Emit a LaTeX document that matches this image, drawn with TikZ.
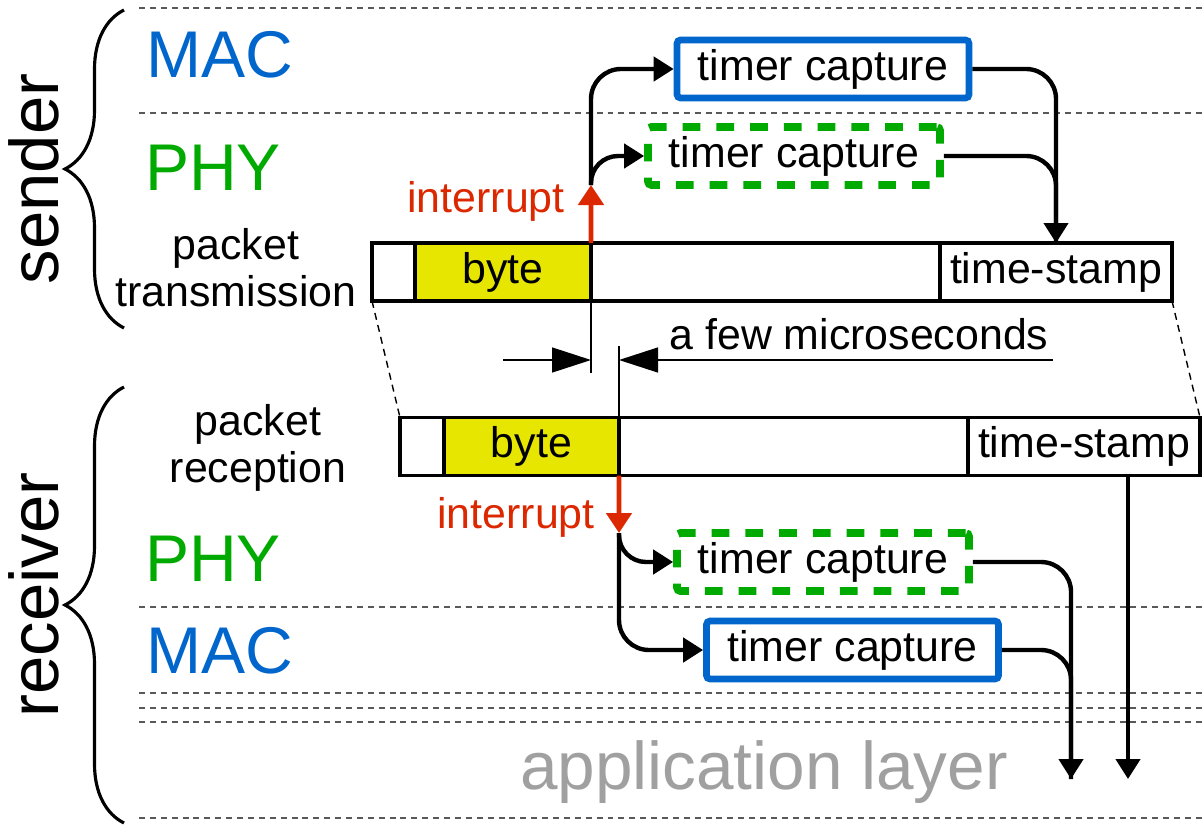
\documentclass[tikz,border=0pt]{standalone}
\usepackage{fontspec}
\setmainfont{Liberation Sans}
\usepackage{tikz}
\usetikzlibrary{positioning, arrows.meta, decorations.pathreplacing}
\definecolor{tsA}{RGB}{  0,102,204}
\definecolor{tsB}{RGB}{  0,170,  0}
\definecolor{tsC}{RGB}{220, 40,  0}
\definecolor{tsD}{RGB}{230,230,  0}
\definecolor{tsE}{RGB}{160,160,160}

\begin{document}
\begin{tikzpicture}[
    font=\fontsize{12.2}{13.4}\selectfont,
    big/.style={font=\fontsize{18.8}{22}\selectfont, inner sep=0pt},
    side/.style={font=\fontsize{19.6}{23}\selectfont, inner sep=0pt, rotate=90, anchor=base},
    layerline/.style={draw=black!65, line width=0.35pt, dash pattern=on 1.7pt off 1.4pt},
    brc/.style={decorate, decoration={brace, amplitude=0.59cm}, line width=0.9pt},
    cell/.style={draw, line width=1.1pt, minimum height=0.58cm, inner sep=0pt, outer sep=0pt},
    capbox/.style={minimum width=2.92cm, minimum height=0.58cm, inner sep=0pt, rounded corners=1pt},
    macbox/.style={capbox, draw=tsA, line width=1.9pt},
    phybox/.style={capbox, draw=tsB, line width=2.2pt, dash pattern=on 5pt off 4.6pt},
    flow/.style={line width=1.25pt, rounded corners=0.3cm},
    arr/.style={-{Triangle[length=0.2cm, width=0.24cm]}},
    irq/.style={draw=tsC, line width=1.4pt, -{Triangle[length=0.2cm, width=0.25cm]}},
    dimline/.style={line width=0.4pt, -{Triangle[length=0.39cm, width=0.25cm]}},
    guide/.style={line width=0.4pt, dash pattern=on 2pt off 1.5pt}
  ]
  \useasboundingbox (0,0) rectangle (12.02,-8.26);
  \foreach \y in {0.08,1.13,6.07,6.93,7.08,7.22,8.18}
    \draw[layerline] (1.39,-\y) -- (12.02,-\y);

  \draw[brc] (1.24,-3.28) -- (1.24,-0.10);
  \draw[brc] (1.24,-8.23) -- (1.24,-3.87);
  \node[side] (sndr) at (0.58,-1.79) {sender};
  \node[side] (rcvr) at (0.58,-5.95) {receiver};

  \node[big, text=tsA] (smacl) at (2.20,-0.55) {MAC};
  \node[big, text=tsB] (sphyl) at (2.13,-1.68) {PHY};
  \node[align=center] (stx) at (2.36,-2.68) {packet\\transmission};
  \node[align=center] (rrx) at (2.58,-4.48) {packet\\reception};
  \node[big, text=tsB] (rphyl) at (2.13,-5.59) {PHY};
  \node[big, text=tsA] (rmacl) at (2.20,-6.51) {MAC};
  \node[big, text=tsE, font=\fontsize{19.2}{22}\selectfont] (app) at (7.64,-7.72) {application layer};

  \node[cell, minimum width=0.43cm, anchor=west] (sc1) at (3.72,-2.72) {};
  \node[cell, minimum width=1.76cm, fill=tsD, right=0pt of sc1] (sbyte) {byte};
  \node[cell, minimum width=3.49cm, right=0pt of sbyte] (smid) {};
  \node[cell, minimum width=2.32cm, right=0pt of smid] (sts) {time-stamp};

  \node[cell, minimum width=0.44cm, anchor=west] (rc1) at (4.00,-4.465) {};
  \node[cell, minimum width=1.75cm, fill=tsD, right=0pt of rc1] (rbyte) {byte};
  \node[cell, minimum width=3.49cm, right=0pt of rbyte] (rmid) {};
  \node[cell, minimum width=2.32cm, right=0pt of rmid] (rts) {time-stamp};

  \draw[guide] (sc1.south west) -- (rc1.north west);
  \draw[guide] (sts.south east) -- (rts.north east);

  \draw[line width=0.4pt] (sbyte.south east) -- ++(0,-0.72);
  \draw[line width=0.4pt] (rbyte.north east) -- ++(0,0.72);
  \coordinate (dl) at (5.03,-3.60);
  \coordinate (dr) at (10.53,-3.60);
  \draw[dimline] (dl) -- (dl -| sbyte.east);
  \draw[dimline] (dr) -- (dr -| rbyte.east);
  \node (few) at (8.59,-3.34) {a few microseconds};

  \coordinate (sirq) at (5.91,-1.85);
  \draw[irq] (sbyte.north east) -- (sirq);
  \node[text=tsC] (sirql) at (4.86,-2.01) {interrupt};
  \coordinate (rirq) at (6.19,-5.33);
  \draw[irq] (rbyte.south east) -- (rirq);
  \node[text=tsC] (rirql) at (5.16,-5.175) {interrupt};

  \node[macbox] (smac) at (8.23,-0.69) {timer capture};
  \node[phybox] (sphy) at (7.94,-1.56) {timer capture};
  \node[phybox] (rphy) at (8.23,-5.62) {timer capture};
  \node[macbox] (rmac) at (8.525,-6.50) {timer capture};

  \draw[flow, arr] (sirq) |- (smac.west);
  \draw[flow, arr, rounded corners=0.27cm] (sirq) |- (sphy.west);
  \draw[flow, arr] (smac.east) -| (sts.north);
  \draw[flow] (sphy.east) -| (sts.north);

  \coordinate (rout1) at (10.71,-7.79);
  \coordinate (rout2) at (11.28,-7.79);
  \draw[flow, arr, rounded corners=0.27cm] (rirq) |- (rphy.west);
  \draw[flow, arr] (rirq) |- (rmac.west);
  \draw[flow] (rphy.east) -| (rout1);
  \draw[flow, arr] (rmac.east) -| (rout1);
  \draw[flow, arr] (rout2 |- rts.south) -- (rout2);
\end{tikzpicture}
\end{document}
